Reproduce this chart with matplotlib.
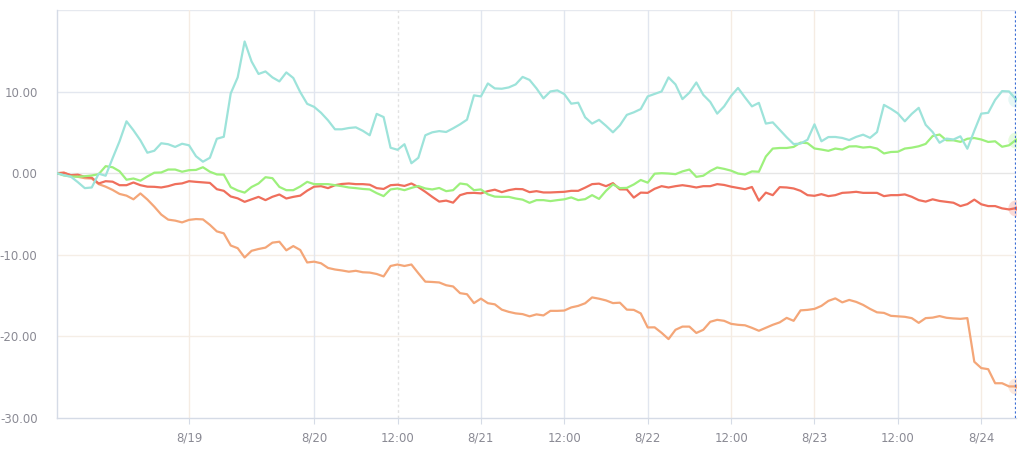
import matplotlib
matplotlib.use("Agg")
import matplotlib.pyplot as plt
import numpy as np

# hourly samples (index 0..138)
cyan = [0.0, -0.24, -0.43, -1.10, -1.83, -1.75, -0.06, -0.31, 1.83, 3.91,
        6.36, 5.26, 4.03, 2.51, 2.75, 3.67, 3.55, 3.22, 3.61, 3.42,
        2.08, 1.41, 1.89, 4.22, 4.46, 9.78, 11.74, 16.14, 13.69, 12.16,
        12.47, 11.74, 11.25, 12.35, 11.67, 9.94, 8.50, 8.13, 7.40, 6.48,
        5.38, 5.38, 5.54, 5.62, 5.20, 4.65, 7.27, 6.88, 3.12, 2.87,
        3.55, 1.22, 1.89, 4.65, 5.01, 5.16, 5.05, 5.50, 5.99, 6.56,
        9.54, 9.41, 11.00, 10.39, 10.35, 10.51, 10.88, 11.80, 11.43, 10.39,
        9.17, 10.02, 10.15, 9.69, 8.52, 8.64, 6.85, 6.08, 6.54, 5.81,
        5.01, 5.87, 7.15, 7.46, 7.86, 9.41, 9.72, 10.02, 11.74, 10.88,
        9.08, 9.87, 11.12, 9.60, 8.74, 7.30, 8.19, 9.47, 10.45, 9.29,
        8.19, 8.62, 6.08, 6.23, 5.32, 4.40, 3.57, 3.63, 4.10, 5.99,
        3.91, 4.43, 4.44, 4.32, 4.06, 4.45, 4.72, 4.33, 5.04, 8.37,
        7.89, 7.33, 6.36, 7.27, 8.01, 5.93, 5.05, 3.73, 4.24, 4.13,
        4.52, 3.00, 5.20, 7.30, 7.40, 8.99, 10.06, 10.02, 9.05]

green = [0.0, -0.28, -0.40, -0.43, -0.37, -0.28, -0.12, 0.86, 0.73, 0.24,
         -0.80, -0.65, -0.92, -0.40, 0.06, 0.09, 0.45, 0.45, 0.18, 0.37,
         0.40, 0.73, 0.18, -0.15, -0.18, -1.71, -2.12, -2.38, -1.69, -1.26,
         -0.49, -0.61, -1.68, -2.08, -2.08, -1.63, -1.06, -1.34, -1.34, -1.34,
         -1.47, -1.59, -1.75, -1.83, -1.93, -1.99, -2.44, -2.81, -1.99, -1.87,
         -2.08, -1.80, -1.57, -1.87, -1.99, -1.81, -2.20, -2.08, -1.26, -1.38,
         -2.08, -1.99, -2.59, -2.87, -2.90, -2.90, -3.10, -3.24, -3.63, -3.30,
         -3.30, -3.42, -3.30, -3.20, -2.97, -3.30, -3.18, -2.69, -3.15, -2.16,
         -1.37, -1.83, -1.80, -1.38, -0.83, -1.16, -0.06, 0.00, -0.04, -0.12,
         0.22, 0.45, -0.45, -0.31, 0.27, 0.70, 0.53, 0.31, -0.04, -0.16,
         0.22, 0.18, 2.04, 3.02, 3.09, 3.09, 3.22, 3.75, 3.68, 3.03,
         2.90, 2.74, 3.02, 2.90, 3.28, 3.30, 3.14, 3.22, 3.02, 2.42,
         2.60, 2.63, 3.02, 3.13, 3.30, 3.59, 4.55, 4.74, 4.03, 4.03,
         3.84, 4.22, 4.31, 4.13, 3.83, 3.91, 3.24, 3.42, 4.09]

red = [0.0, 0.04, -0.24, -0.18, -0.45, -0.55, -1.26, -0.98, -1.04, -1.47,
       -1.47, -1.14, -1.47, -1.65, -1.67, -1.75, -1.59, -1.34, -1.25, -0.98,
       -1.06, -1.12, -1.19, -1.96, -2.16, -2.85, -3.08, -3.51, -3.20, -2.90,
       -3.30, -2.89, -2.61, -3.10, -2.90, -2.75, -2.14, -1.65, -1.59, -1.83,
       -1.47, -1.32, -1.26, -1.34, -1.34, -1.41, -1.83, -1.93, -1.47, -1.41,
       -1.56, -1.26, -1.71, -2.28, -2.90, -3.48, -3.36, -3.61, -2.69, -2.44,
       -2.41, -2.47, -2.20, -2.02, -2.32, -2.08, -1.93, -1.96, -2.32, -2.20,
       -2.36, -2.36, -2.32, -2.28, -2.16, -2.16, -1.77, -1.34, -1.28, -1.59,
       -1.22, -1.98, -1.99, -2.99, -2.38, -2.41, -1.91, -1.59, -1.75, -1.59,
       -1.47, -1.59, -1.75, -1.59, -1.59, -1.34, -1.44, -1.65, -1.81, -1.96,
       -1.69, -3.36, -2.38, -2.69, -1.71, -1.75, -1.87, -2.16, -2.69, -2.77,
       -2.57, -2.81, -2.69, -2.41, -2.36, -2.28, -2.41, -2.41, -2.41, -2.81,
       -2.69, -2.69, -2.60, -2.89, -3.30, -3.48, -3.20, -3.40, -3.51, -3.62,
       -4.03, -3.79, -3.24, -3.81, -4.03, -4.03, -4.31, -4.44, -4.28]

orange = [0.0, 0.08, -0.28, -0.45, -0.61, -0.65, -1.34, -1.65, -2.05, -2.54,
          -2.75, -3.20, -2.48, -3.22, -4.10, -5.07, -5.69, -5.81, -6.03, -5.72,
          -5.62, -5.66, -6.33, -7.13, -7.37, -8.86, -9.19, -10.33, -9.51, -9.29,
          -9.12, -8.51, -8.40, -9.45, -8.93, -9.41, -10.94, -10.84, -11.04, -11.61,
          -11.80, -11.92, -12.07, -11.96, -12.14, -12.18, -12.35, -12.65, -11.37, -11.19,
          -11.37, -11.19, -12.26, -13.29, -13.33, -13.39, -13.73, -13.88, -14.70, -14.83,
          -15.92, -15.37, -15.93, -16.07, -16.72, -16.99, -17.18, -17.27, -17.54, -17.30,
          -17.43, -16.87, -16.87, -16.83, -16.45, -16.26, -15.94, -15.22, -15.38, -15.59,
          -15.92, -15.87, -16.72, -16.75, -17.18, -18.90, -18.89, -19.56, -20.33, -19.19,
          -18.80, -18.80, -19.58, -19.19, -18.21, -17.97, -18.09, -18.46, -18.58, -18.64,
          -18.95, -19.31, -18.95, -18.58, -18.28, -17.73, -18.09, -16.81, -16.75, -16.63,
          -16.26, -15.65, -15.34, -15.83, -15.53, -15.77, -16.14, -16.63, -17.05, -17.12,
          -17.48, -17.54, -17.60, -17.76, -18.34, -17.76, -17.70, -17.51, -17.72, -17.80,
          -17.85, -17.76, -23.11, -23.88, -24.02, -25.74, -25.74, -26.13, -26.13]

x_tick_pos = [19, 37, 49, 61, 73, 85, 97, 109, 121, 133]
x_tick_labels = ["8/19", "8/20", "12:00", "8/21", "12:00", "8/22", "12:00", "8/23", "12:00", "8/24"]
y_ticks = [-30, -20, -10, 0, 10]
y_tick_labels = ["-30.00", "-20.00", "-10.00", "0.00", "10.00"]

series = [
    (orange, "#f4a678"),
    (red, "#ef6f5c"),
    (green, "#9df07c"),
    (cyan, "#9de3da"),
]

fig = plt.figure(figsize=(10.24, 4.5), dpi=100)
ax = fig.add_axes([57 / 1024, 1 - 418 / 450, 959 / 1024, 408 / 450])
ax.set_xlim(0, 138)
ax.set_ylim(-30, 20)

# grid lines
hgrid_colors = {20: "#e6e9ef", 10: "#e3e7ef", 0: "#e6e6e6", -10: "#f5eee6", -20: "#f5eee6"}
for yv, c in hgrid_colors.items():
    ax.axhline(yv, color=c, lw=1.0, zorder=0)
vgrid_colors = ["#f5ece3", "#e1e6ef", "#e2e2e2", "#e1e6ef", "#e1e6ef",
                "#e1e6ef", "#f5ece3", "#f5ece3", "#e1e6ef", "#f5ece3"]
for xp, c in zip(x_tick_pos, vgrid_colors):
    ls = (0, (2, 2)) if c == "#e2e2e2" else "-"
    ax.axvline(xp, color=c, lw=1.0, ls=ls, zorder=0)

x = np.arange(len(cyan))
for data, col in series:
    ax.plot(x, data, color=col, lw=1.6, zorder=3, solid_joinstyle="round")
    ax.scatter([x[-1]], [data[-1]], s=140, color=col, alpha=0.25, zorder=4, linewidths=0)
    ax.scatter([x[-1]], [data[-1]], s=8, color=col, zorder=5, linewidths=0)

# pointer line at right
ax.axvline(138, color="#3d6fd6", lw=1.6, ls=(0, (1, 1)), zorder=6)

for side in ["top", "right"]:
    ax.spines[side].set_visible(False)
ax.spines["left"].set_color("#d5dbe6")
ax.spines["bottom"].set_color("#d5dbe6")
ax.spines["left"].set_linewidth(1.0)
ax.spines["bottom"].set_linewidth(1.0)

ax.set_xticks(x_tick_pos)
ax.set_xticklabels(x_tick_labels)
ax.set_yticks(y_ticks)
ax.set_yticklabels(y_tick_labels)
ax.tick_params(axis="x", colors="#d5dbe6", labelcolor="#8a8a94", length=4, labelsize=8.5, pad=6)
ax.tick_params(axis="y", length=0, labelcolor="#8a8a94", labelsize=8.5, pad=14)

fig.savefig("out.png", dpi=100, facecolor="white")
